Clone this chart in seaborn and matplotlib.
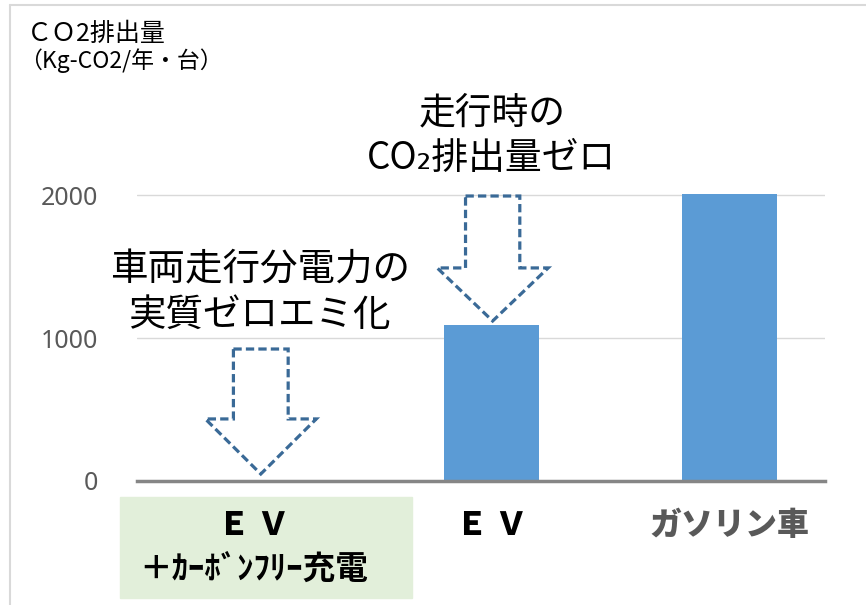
import seaborn as sns
import numpy as np
import pandas as pd
import matplotlib.pyplot as plt
from matplotlib.patches import Polygon, Rectangle
from matplotlib.lines import Line2D
import matplotlib.transforms as mtransforms

# データ
categories = ["EV+カーボンフリー充電", "EV", "ガソリン車"]
emissions = [0, 1090, 2010]
label_main = ["Ｅ Ｖ", "Ｅ Ｖ", "ガソリン車"]
label_sub = ["＋ｶｰﾎﾞﾝﾌﾘｰ充電", "", ""]
label_colors = ["#000000", "#000000", "#595959"]
yticks = [0, 1000, 2000]

sns.set_theme(style="white")
plt.rcParams['font.family'] = ['Noto Sans CJK JP', 'DejaVu Sans']

df = pd.DataFrame({'category': categories, 'co2': emissions})

fig = plt.figure(figsize=(8.66, 6.05), dpi=100)
ax = fig.add_axes([137/866, 1 - 481/605, 688/866, 441/605])

sns.barplot(df, x='category', y='co2', color='#5b9bd5', width=0.4,
            linewidth=0, saturation=1, ax=ax)

ax.set_xlim(-0.49, 2.40)
ax.set_ylim(0, 3084)
ax.set_yticks(yticks)
ax.set_yticklabels([str(t) for t in yticks], fontsize=18, color='#595959',
                   family=['Noto Sans', 'DejaVu Sans'])
ax.tick_params(axis='y', length=0, pad=28)
ax.set_xticks([])
ax.set_xlabel('')
ax.set_ylabel('')
for t in yticks[1:]:
    ax.axhline(t, color='#d9d9d9', lw=1, zorder=0)
for s in ['top', 'right', 'left']:
    ax.spines[s].set_visible(False)
ax.spines['bottom'].set_color('#868686')
ax.spines['bottom'].set_linewidth(2.5)
ax.spines['bottom'].set_zorder(5)

# カテゴリラベル
trans = mtransforms.blended_transform_factory(ax.transData, fig.transFigure)
fig.add_artist(Rectangle((120/866, 1 - 598/605), 292/866, 101/605,
                         transform=fig.transFigure, color='#e2efda', zorder=0))
for i, (m, s, c) in enumerate(zip(label_main, label_sub, label_colors)):
    ax.text(i, 1 - 525/605, m, transform=trans, ha='center', va='center',
            fontsize=23, fontweight='heavy', color=c, clip_on=False)
    if s:
        ax.text(i, 1 - 569/605, s, transform=trans, ha='center', va='center',
                fontsize=23.5, fontweight='bold', color=c, clip_on=False)

# 点線の矢印
def dashed_arrow(xc, y_top, y_neck, y_tip, shaft_w, head_w):
    pts = [(xc - shaft_w, y_top), (xc + shaft_w, y_top), (xc + shaft_w, y_neck),
           (xc + head_w, y_neck), (xc, y_tip), (xc - head_w, y_neck),
           (xc - shaft_w, y_neck)]
    ax.add_patch(Polygon(pts, closed=True, fill=False, edgecolor='#3a6a97',
                         lw=2.3, linestyle=(0, (2.6, 1.3)), zorder=6, clip_on=False))

dashed_arrow(0.03, 923, 434, 49, 0.115, 0.233)
dashed_arrow(1.004, 1993, 1490, 1119, 0.114, 0.233)

ax.text(0.025, 1315, "車両走行分電力の\n実質ゼロエミ化", ha='center', va='center',
        fontsize=27, color='#000000', linespacing=1.22)
ax.text(1.0, 2413, "走行時の\nCO₂排出量ゼロ", ha='center', va='center',
        fontsize=26.5, color='#000000', linespacing=1.22)

# タイトル(単位)
fig.text(27/866, 1 - 34/605, "ＣＯ2排出量", ha='left', va='center',
         fontsize=18, color='#000000')
fig.text(19/866, 1 - 61/605, "（Kg-CO2/年・台）", ha='left', va='center',
         fontsize=16.5, color='#000000')

# 枠線
fig.add_artist(Line2D([10/866, 10/866], [0, 1 - 5/605], transform=fig.transFigure,
                      color='#d9d9d9', lw=1.5))
fig.add_artist(Line2D([10/866, 1], [1 - 5/605, 1 - 5/605], transform=fig.transFigure,
                      color='#d9d9d9', lw=1.5))

fig.savefig('out.png', dpi=100)
